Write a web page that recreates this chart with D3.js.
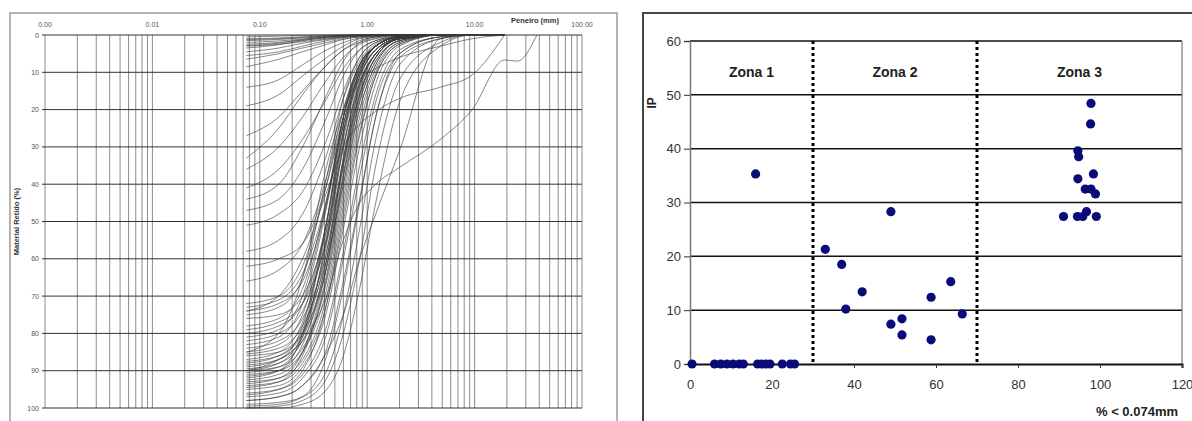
<!DOCTYPE html>
<html>
<head>
<meta charset="utf-8">
<script src="https://cdn.jsdelivr.net/npm/d3@7/dist/d3.min.js"></script>
<style>
  body { margin: 0; background: #fff; }
  svg { display: block; font-family: "Liberation Sans", Arial, sans-serif; }
</style>
</head>
<body>
<svg id="chart" width="1192" height="421"></svg>
<script>
// ---- left panel: grain size curves ----
const sieves = [0.075, 0.15, 0.25, 0.42, 0.6, 0.85, 1.2, 2.0, 4.8, 9.5, 19, 25, 38];
const sizeTicks = [0.001, 0.01, 0.1, 1, 10, 100];
const sizeTickLabels = ['0.00', '0.01', '0.10', '1.00', '10.00', '100.00'];
const retainedTicks = [0, 10, 20, 30, 40, 50, 60, 70, 80, 90, 100];

// % retained at each sieve, one row per sample
const fineCurves = [
  [0.5, 0.3, 0.1, 0, 0, 0, 0, 0, 0, 0, 0],
  [1, 0.8, 0.5, 0.2, 0, 0, 0, 0, 0, 0, 0],
  [1.2, 1, 0.6, 0.3, 0.1, 0, 0, 0, 0, 0, 0],
  [1.5, 1.2, 0.8, 0.4, 0.2, 0, 0, 0, 0, 0, 0],
  [2, 1.6, 1.1, 0.6, 0.3, 0.1, 0, 0, 0, 0, 0],
  [2.5, 2, 1.4, 0.8, 0.4, 0.2, 0, 0, 0, 0, 0],
  [2.8, 2.2, 1.2, 0.5, 0.2, 0, 0, 0, 0, 0, 0],
  [3, 2.5, 1.8, 1, 0.5, 0.2, 0.1, 0, 0, 0, 0],
  [3.5, 2.6, 1.5, 0.6, 0.2, 0, 0, 0, 0, 0, 0],
  [4.5, 3.5, 2.2, 1.2, 0.6, 0.3, 0.1, 0, 0, 0, 0],
  [5.5, 4.5, 3, 1.5, 0.7, 0.3, 0.1, 0, 0, 0, 0],
  [6.5, 5, 3.5, 2, 1, 0.5, 0.2, 0, 0, 0, 0],
  [8.5, 6.5, 4.5, 2.5, 1.2, 0.5, 0.2, 0, 0, 0, 0]
];
const midCurves = [
  [14, 12, 8, 4, 2, 0.8, 0.3, 0, 0, 0, 0],
  [19, 16, 11, 6, 3, 1, 0.4, 0, 0, 0, 0],
  [27, 22, 15, 8, 4, 1.5, 0.5, 0, 0, 0, 0],
  [33, 25, 16, 8, 4, 2, 0.8, 0.2, 0, 0, 0],
  [36, 30, 22, 12, 6, 2.5, 1, 0, 0, 0, 0],
  [41, 36, 28, 17, 9, 4, 1.5, 0.3, 0, 0, 0],
  [44, 40, 30, 16, 7, 2, 0.5, 0, 0, 0, 0],
  [47, 44, 36, 22, 11, 4, 1.5, 0.3, 0, 0, 0],
  [51, 48, 42, 28, 15, 6, 2, 0.5, 0, 0, 0],
  [58, 55, 48, 32, 17, 7, 2.5, 0.5, 0, 0, 0],
  [62, 60, 56, 40, 22, 9, 3, 0.5, 0, 0, 0],
  [66, 63, 56, 38, 20, 8, 3, 0.5, 0, 0, 0]
];
const coarseCurves = [
  [72, 70, 62, 40, 20, 8, 3, 0.5, 0, 0, 0],
  [73, 71, 64, 44, 24, 10, 3, 0.5, 0, 0, 0],
  [74, 72, 66, 45, 24, 10, 3, 0.5, 0, 0, 0],
  [75, 73, 65, 38, 17, 6, 2, 0.3, 0, 0, 0],
  [76, 75, 70, 52, 30, 13, 5, 1, 0, 0, 0],
  [78, 76, 68, 44, 22, 9, 3, 0.5, 0, 0, 0],
  [79, 77, 72, 55, 34, 16, 6, 1, 0, 0, 0],
  [80, 78, 72, 50, 26, 11, 4, 0.8, 0, 0, 0],
  [81, 79, 70, 45, 22, 8, 3, 0.5, 0, 0, 0],
  [82, 80, 74, 54, 30, 13, 5, 1, 0, 0, 0],
  [83, 81, 72, 46, 22, 8, 3, 0.5, 0, 0, 0],
  [84, 82, 76, 58, 35, 16, 6, 1, 0, 0, 0],
  [85, 83, 75, 50, 26, 10, 4, 0.8, 0, 0, 0],
  [85.5, 84, 78, 60, 40, 20, 8, 1.5, 0, 0, 0],
  [86, 85, 80, 62, 38, 18, 7, 1.5, 0, 0, 0],
  [87, 85, 77, 52, 27, 11, 4, 0.8, 0, 0, 0],
  [87.5, 86, 80, 58, 33, 14, 5, 1, 0, 0, 0],
  [88, 86, 79, 56, 30, 12, 4, 0.8, 0, 0, 0],
  [88.5, 87, 81, 60, 34, 14, 5, 1, 0, 0, 0],
  [89, 87, 78, 50, 24, 9, 3, 0.5, 0, 0, 0],
  [89.5, 88, 82, 62, 37, 16, 6, 1, 0, 0, 0],
  [90, 88, 80, 55, 28, 11, 4, 0.8, 0, 0, 0],
  [90, 89, 84, 66, 42, 20, 8, 1.5, 0, 0, 0],
  [90.5, 89, 81, 54, 26, 10, 3, 0.5, 0, 0, 0],
  [91, 90, 85, 68, 44, 22, 9, 2, 0, 0, 0],
  [91.5, 90, 83, 60, 33, 13, 5, 1, 0, 0, 0],
  [92, 90, 80, 50, 22, 8, 3, 0.5, 0, 0, 0],
  [92.5, 91, 85, 64, 38, 17, 6, 1, 0, 0, 0],
  [93, 92, 87, 70, 46, 24, 10, 2, 0, 0, 0],
  [93.5, 92, 85, 62, 35, 15, 5, 1, 0, 0, 0],
  [94, 93, 88, 72, 50, 27, 11, 2.5, 0, 0, 0],
  [94.5, 93, 86, 65, 40, 18, 7, 1.5, 0, 0, 0],
  [95, 94, 89, 74, 52, 30, 13, 3, 0, 0, 0],
  [96, 95, 91, 78, 58, 35, 16, 4, 0.5, 0, 0],
  [96.5, 95, 90, 72, 48, 26, 11, 2.5, 0, 0, 0],
  [97, 96, 92, 80, 60, 38, 18, 5, 0.5, 0, 0],
  [98, 97, 94, 84, 66, 44, 22, 6, 1, 0, 0],
  [99, 98.5, 97, 90, 75, 52, 28, 8, 1, 0, 0],
  [99.5, 99, 97, 86, 68, 45, 22, 5, 0.5, 0, 0],
  [100, 99.5, 98, 92, 80, 60, 35, 12, 2, 0, 0],
  [100, 100, 99, 95, 86, 68, 45, 18, 3, 0, 0]
];
const oddCurves = [
  [90, 87, 82, 70, 55, 45, 40, 35.5, 28, 20, 6.7, 7, 0],
  [74, 70, 60, 42, 30, 24, 20.5, 17, 14, 10.7, 0],
  [98, 97, 94, 85, 75, 60, 48, 31, 1, 0, 0],
  [85, 80, 65, 35, 20, 12, 9, 6, 3, 1, 0]
];

// ---- right panel: IP vs fines ----
const finesPct = [0.5, 6, 7.5, 9, 10.5, 12, 13, 16.5, 17.5, 18.5, 19.5, 22.5, 24.5, 25.5, 16,
  49, 33, 37, 38, 42, 49, 51.7, 51.7, 58.8, 58.8, 63.6, 66.4,
  97.8, 97.7, 94.6, 94.8, 94.6, 98.4, 96.4, 97.8, 98.9, 91.1, 94.5, 95.8, 96.7, 99.1];
const ipValues = [0, 0, 0, 0, 0, 0, 0, 0, 0, 0, 0, 0, 0, 0, 35.3,
  28.3, 21.3, 18.5, 10.2, 13.4, 7.4, 8.4, 5.4, 12.4, 4.5, 15.3, 9.3,
  48.4, 44.6, 39.6, 38.5, 34.4, 35.3, 32.5, 32.5, 31.6, 27.4, 27.4, 27.4, 28.3, 27.4];
const zoneBounds = [30, 70];
const zoneLabels = ['Zona 1', 'Zona 2', 'Zona 3'];
const zoneCenters = [15, 50, 95];
const finesTicks = [0, 20, 40, 60, 80, 100, 120];
const ipTicks = [0, 10, 20, 30, 40, 50, 60];

const svg = d3.select('#chart');

// ================= left panel =================
svg.append('rect')
  .attr('x', 10).attr('y', 13).attr('width', 607).attr('height', 430)
  .attr('fill', 'none').attr('stroke', '#9a9a9a').attr('stroke-width', 1.5);

const gx = d3.scaleLog().domain([0.001, 100]).range([45, 582]);
const gy = d3.scaleLinear().domain([0, 100]).range([35, 408]);

const left = svg.append('g');

// vertical log grid
let minor = [];
for (let d = 0.001; d < 100; d *= 10) {
  for (let k = 1; k < 10; k++) minor.push(d * k);
}
minor.push(100);
left.selectAll('.vgrid').data(minor).enter().append('line')
  .attr('x1', d => gx(d)).attr('x2', d => gx(d))
  .attr('y1', gy(0)).attr('y2', gy(100))
  .attr('stroke', '#8c8c8c').attr('stroke-width', 1);

left.selectAll('.hgrid').data(retainedTicks).enter().append('line')
  .attr('x1', gx(0.001)).attr('x2', gx(100))
  .attr('y1', d => gy(d)).attr('y2', d => gy(d))
  .attr('stroke', '#333').attr('stroke-width', 1);

left.selectAll('.ytick').data(retainedTicks).enter().append('line')
  .attr('x1', gx(0.001) - 3).attr('x2', gx(0.001))
  .attr('y1', d => gy(d)).attr('y2', d => gy(d))
  .attr('stroke', '#333');

left.selectAll('.ylab').data(retainedTicks).enter().append('text')
  .attr('x', gx(0.001) - 6).attr('y', d => gy(d) + 2.5)
  .attr('text-anchor', 'end').attr('font-size', 7).attr('fill', '#555')
  .text(d => d);

left.selectAll('.xlab').data(sizeTicks).enter().append('text')
  .attr('x', d => gx(d)).attr('y', 27)
  .attr('text-anchor', 'middle').attr('font-size', 7).attr('fill', '#555')
  .text((d, i) => sizeTickLabels[i]);

left.append('text')
  .attr('x', 535).attr('y', 23).attr('text-anchor', 'middle')
  .attr('font-size', 7.5).attr('font-weight', 'bold').attr('fill', '#333')
  .text('Peneiro (mm)');

left.append('text')
  .attr('transform', 'translate(19,' + gy(50) + ') rotate(-90)')
  .attr('text-anchor', 'middle').attr('font-size', 7.5).attr('font-weight', 'bold').attr('fill', '#333')
  .text('Material Retido (%)');

const curveLine = d3.line()
  .x(d => gx(d[0]))
  .y(d => gy(d[1]))
  .curve(d3.curveMonotoneX);

const allCurves = fineCurves.concat(midCurves, coarseCurves, oddCurves);
left.selectAll('.curve').data(allCurves).enter().append('path')
  .attr('d', vals => curveLine(vals.map((v, i) => [sieves[i], v])))
  .attr('fill', 'none')
  .attr('stroke', '#383838')
  .attr('stroke-opacity', 0.6)
  .attr('stroke-width', 1);

// ================= right panel =================
svg.append('rect')
  .attr('x', 643).attr('y', 13).attr('width', 600).attr('height', 430)
  .attr('fill', 'none').attr('stroke', '#444').attr('stroke-width', 2);

const px = d3.scaleLinear().domain([0, 120]).range([690, 1182]);
const py = d3.scaleLinear().domain([0, 60]).range([364, 41]);

const right = svg.append('g');

right.selectAll('.hgrid').data(ipTicks.filter(d => d > 0)).enter().append('line')
  .attr('x1', px(0)).attr('x2', px(120))
  .attr('y1', d => py(d)).attr('y2', d => py(d))
  .attr('stroke', '#111').attr('stroke-width', 1.5);

right.append('line')
  .attr('x1', px(120)).attr('x2', px(120)).attr('y1', py(60)).attr('y2', py(0))
  .attr('stroke', '#777').attr('stroke-width', 1.2);

right.append('g')
  .attr('transform', 'translate(' + px(0) + ',0)')
  .call(d3.axisLeft(py).tickValues(ipTicks).tickSize(6).tickPadding(3))
  .call(g => g.select('.domain').attr('stroke', '#777').attr('stroke-width', 1.5))
  .call(g => g.selectAll('.tick line').attr('stroke', '#333'))
  .call(g => g.selectAll('text').attr('font-size', 13).attr('fill', '#333')
    .attr('font-family', '"Liberation Sans", Arial, sans-serif'));

right.append('g')
  .attr('transform', 'translate(0,' + py(0) + ')')
  .call(d3.axisBottom(px).tickValues(finesTicks).tickSize(4).tickPadding(12))
  .call(g => g.select('.domain').attr('stroke', '#111').attr('stroke-width', 2))
  .call(g => g.selectAll('.tick line').attr('stroke', '#333'))
  .call(g => g.selectAll('text').attr('font-size', 13).attr('fill', '#333')
    .attr('font-family', '"Liberation Sans", Arial, sans-serif'));

right.selectAll('.zone').data(zoneBounds).enter().append('line')
  .attr('x1', d => px(d)).attr('x2', d => px(d))
  .attr('y1', py(60)).attr('y2', py(0))
  .attr('stroke', '#000').attr('stroke-width', 3).attr('stroke-dasharray', '3,3');

right.selectAll('.zlab').data(zoneLabels).enter().append('text')
  .attr('x', (d, i) => px(zoneCenters[i])).attr('y', py(55) + 9)
  .attr('text-anchor', 'middle').attr('font-size', 14).attr('font-weight', 'bold').attr('fill', '#222')
  .text(d => d);

right.append('text')
  .attr('transform', 'translate(656,' + py(48.5) + ') rotate(-90)')
  .attr('text-anchor', 'middle').attr('font-size', 12).attr('font-weight', 'bold').attr('fill', '#222')
  .text('IP');

right.append('text')
  .attr('x', 1137).attr('y', 416).attr('text-anchor', 'middle')
  .attr('font-size', 13).attr('font-weight', 'bold').attr('fill', '#222')
  .text('% < 0.074mm');

right.selectAll('.dot').data(finesPct).enter().append('circle')
  .attr('cx', d => px(d))
  .attr('cy', (d, i) => py(ipValues[i]))
  .attr('r', 4.6)
  .attr('fill', '#0a0a78');
</script>
</body>
</html>
